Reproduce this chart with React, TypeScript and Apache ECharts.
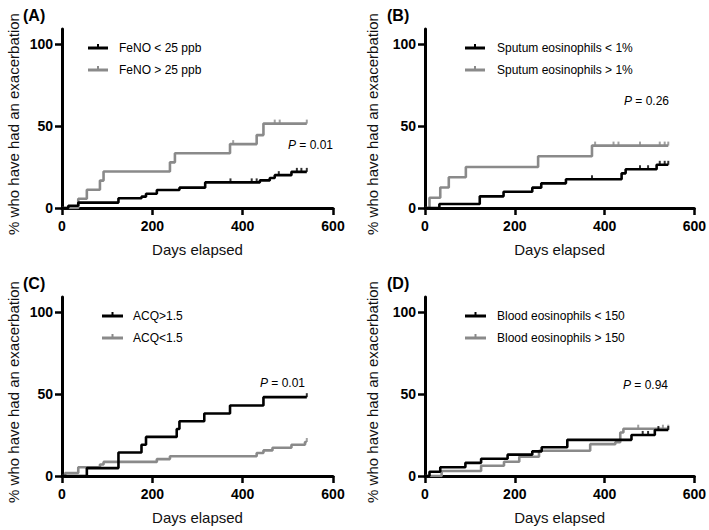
import React, { useEffect, useRef } from "react";
import * as echarts from "echarts";

const FONT = '"Liberation Sans", Arial, Helvetica, sans-serif';
const BLACK = "#000000";
const GRAY = "#8a8a8a";

// x ticks
const xTicks = [0, 200, 400, 600];
const yTicks = [0, 50, 100];

// Panel A
const aLowName = "FeNO < 25 ppb";
const aLowDays = [0, 14, 36, 125, 176, 186, 210, 260, 317, 438, 460, 471, 508, 542];
const aLowPct = [0, 1.4, 3.3, 5.9, 6.9, 8.7, 11, 12.4, 15.6, 16.8, 18.3, 20, 22, 22];
const aLowCens = [373, 420, 431, 480, 520, 530, 542];
const aHighName = "FeNO > 25 ppb";
const aHighDays = [0, 36, 55, 84, 92, 239, 250, 372, 431, 446, 542];
const aHighPct = [0, 5.6, 11.1, 16.7, 22.2, 27.8, 33.3, 38.9, 44.4, 51.4, 51.4];
const aHighCens = [379, 471, 482, 542];
const aP = "0.01";

// Panel B
const bLowName = "Sputum eosinophils < 1%";
const bLowDays = [0, 32, 122, 175, 239, 259, 314, 438, 447, 516, 542];
const bLowPct = [0, 2.4, 7.1, 9.9, 12.4, 15, 17.5, 21.1, 23.6, 26.3, 26.3];
const bLowCens = [372, 479, 497, 523, 534, 542];
const bHighName = "Sputum eosinophils > 1%";
const bHighDays = [0, 10, 34, 53, 91, 252, 372, 542];
const bHighPct = [0, 6.25, 12.5, 18.75, 25, 31.5, 38, 38];
const bHighCens = [379, 420, 431, 479, 523, 534, 542];
const bP = "0.26";

// Panel C
const cHighName = "ACQ>1.5";
const cHighDays = [0, 55, 125, 176, 186, 254, 260, 315, 372, 446, 542];
const cHighPct = [0, 4.8, 14.3, 19, 23.8, 28.6, 33.3, 38.1, 42.9, 48, 48];
const cHighCens = [542];
const cLowName = "ACQ<1.5";
const cLowDays = [0, 7, 36, 84, 92, 210, 239, 431, 446, 466, 508, 538, 542];
const cLowPct = [0, 1.8, 5.3, 7, 8.6, 10.3, 12, 14, 15.6, 17.2, 19, 20.7, 20.7];
const cLowCens = [542];
const cP = "0.01";

// Panel D
const dLowName = "Blood eosinophils < 150";
const dLowDays = [0, 10, 34, 90, 125, 184, 239, 260, 317, 460, 512, 542];
const dLowPct = [0, 2.6, 5.3, 8, 10.5, 13, 15, 17.5, 22, 25, 28, 28];
const dLowCens = [485, 497, 520, 542];
const dHighName = "Blood eosinophils > 150";
const dHighDays = [0, 37, 125, 176, 210, 254, 368, 424, 435, 442, 542];
const dHighPct = [0, 3, 6.2, 8.7, 11.7, 15.4, 19.4, 20.6, 26.5, 28.8, 28.8];
const dHighCens = [475, 530, 542];
const dP = "0.94";

function levelAt(days: number[], pct: number[], t: number) {
  let v = 0;
  for (let i = 0; i < days.length; i++) if (days[i] <= t) v = pct[i];
  return v;
}

const grids = [
  { left: 62, top: 29, width: 271, height: 179 },
  { left: 425, top: 29, width: 271, height: 179 },
  { left: 62, top: 297, width: 271, height: 179 },
  { left: 425, top: 297, width: 271, height: 179 },
];

function buildOption() {
  const series: any[] = [];
  const addKM = (name: string, days: number[], pct: number[], cens: number[], color: string, idx: number, z: number) => {
    series.push({
      type: "line",
      name,
      data: days.map((d, i) => [d, pct[i]]),
      step: "end",
      symbol: "none",
      showSymbol: false,
      lineStyle: { color, width: 2.6 },
      xAxisIndex: idx,
      yAxisIndex: idx,
      z,
      silent: true,
    });
    series.push({
      type: "scatter",
      data: cens.map((d) => [d, levelAt(days, pct, d)]),
      symbol: "rect",
      symbolSize: [2, 4],
      symbolOffset: [0, -2],
      itemStyle: { color },
      xAxisIndex: idx,
      yAxisIndex: idx,
      z,
      silent: true,
    });
  };
  addKM(aHighName, aHighDays, aHighPct, aHighCens, GRAY, 0, 2);
  addKM(aLowName, aLowDays, aLowPct, aLowCens, BLACK, 0, 3);
  addKM(bHighName, bHighDays, bHighPct, bHighCens, GRAY, 1, 2);
  addKM(bLowName, bLowDays, bLowPct, bLowCens, BLACK, 1, 3);
  addKM(cLowName, cLowDays, cLowPct, cLowCens, GRAY, 2, 2);
  addKM(cHighName, cHighDays, cHighPct, cHighCens, BLACK, 2, 3);
  addKM(dHighName, dHighDays, dHighPct, dHighCens, GRAY, 3, 2);
  addKM(dLowName, dLowDays, dLowPct, dLowCens, BLACK, 3, 3);

  const labelStyle = { color: "#000", fontWeight: "bold" as const, fontSize: 14, fontFamily: FONT };
  const xAxis = grids.map((_, i) => ({
    gridIndex: i,
    type: "value",
    min: xTicks[0],
    max: xTicks[xTicks.length - 1],
    interval: xTicks[1] - xTicks[0],
    axisLine: { show: true, onZero: false, lineStyle: { color: "#000", width: 3 } },
    axisTick: { show: true, length: 7, lineStyle: { color: "#000", width: 2.5 } },
    axisLabel: { ...labelStyle, margin: 11 },
    splitLine: { show: false },
    name: "Days elapsed",
    nameLocation: "middle",
    nameGap: 34,
    nameTextStyle: { fontSize: 15, color: "#111", fontFamily: FONT },
  }));
  const yAxis = grids.map((_, i) => ({
    gridIndex: i,
    type: "value",
    min: 0,
    max: 109,
    axisLine: { show: true, lineStyle: { color: "#000", width: 3 } },
    axisTick: { show: true, length: 7, customValues: yTicks, lineStyle: { color: "#000", width: 2.5 } },
    axisLabel: { ...labelStyle, margin: 9, customValues: yTicks },
    splitLine: { show: false },
  }));

  const graphic: any[] = [];
  const panelLabels = [
    { t: "(A)", x: 23, y: 15 },
    { t: "(B)", x: 387, y: 15 },
    { t: "(C)", x: 23, y: 283 },
    { t: "(D)", x: 387, y: 283 },
  ];
  panelLabels.forEach((p) =>
    graphic.push({
      type: "text",
      x: p.x,
      y: p.y,
      style: { text: p.t, fontSize: 16, fontWeight: "bold", fontFamily: FONT, fill: "#000", align: "left", verticalAlign: "middle" },
    })
  );
  const yTitles = [
    { x: 13, y: 124 },
    { x: 372, y: 124 },
    { x: 13, y: 392 },
    { x: 372, y: 392 },
  ];
  yTitles.forEach((p) =>
    graphic.push({
      type: "text",
      x: p.x,
      y: p.y,
      rotation: Math.PI / 2,
      style: {
        text: "% who have had an exacerbation",
        fontSize: 15,
        fontFamily: FONT,
        fill: "#111",
        align: "center",
        verticalAlign: "middle",
      },
    })
  );
  const legends = [
    { x0: 88, x1: 108, tx: 119, y: 48, name: aLowName, color: BLACK },
    { x0: 88, x1: 108, tx: 119, y: 70, name: aHighName, color: GRAY },
    { x0: 465, x1: 485, tx: 497, y: 48, name: bLowName, color: BLACK },
    { x0: 465, x1: 485, tx: 497, y: 70, name: bHighName, color: GRAY },
    { x0: 102, x1: 123, tx: 133, y: 316, name: cHighName, color: BLACK },
    { x0: 102, x1: 123, tx: 133, y: 338, name: cLowName, color: GRAY },
    { x0: 465, x1: 486, tx: 497, y: 316, name: dLowName, color: BLACK },
    { x0: 465, x1: 486, tx: 497, y: 338, name: dHighName, color: GRAY },
  ];
  legends.forEach((l) => {
    graphic.push({
      type: "line",
      shape: { x1: l.x0, y1: l.y, x2: l.x1, y2: l.y },
      style: { stroke: l.color, lineWidth: 3 },
    });
    graphic.push({
      type: "rect",
      shape: { x: (l.x0 + l.x1) / 2 - 1, y: l.y - 4, width: 2, height: 4 },
      style: { fill: l.color },
    });
    graphic.push({
      type: "text",
      x: l.tx,
      y: l.y,
      style: { text: l.name, fontSize: 12, fontFamily: FONT, fill: "#000", align: "left", verticalAlign: "middle" },
    });
  });
  const pTexts = [
    { x: 288, y: 145, v: aP },
    { x: 624, y: 101, v: bP },
    { x: 260, y: 383, v: cP },
    { x: 623, y: 385, v: dP },
  ];
  pTexts.forEach((p) =>
    graphic.push({
      type: "text",
      x: p.x,
      y: p.y,
      style: {
        text: "{i|P} = " + p.v,
        fontSize: 12,
        fontFamily: FONT,
        fill: "#000",
        align: "left",
        verticalAlign: "middle",
        rich: { i: { fontStyle: "italic", fontSize: 12, fontFamily: FONT, fill: "#000" } },
      },
    })
  );

  return {
    animation: false,
    backgroundColor: "#ffffff",
    grid: grids,
    xAxis,
    yAxis,
    series,
    graphic,
  };
}

export default function App() {
  const ref = useRef<HTMLDivElement>(null);
  useEffect(() => {
    if (!ref.current) return;
    const chart = echarts.init(ref.current, undefined, { renderer: "svg" });
    chart.setOption(buildOption() as any);
    return () => chart.dispose();
  }, []);
  return (
    <div
      ref={ref}
      style={{ position: "fixed", left: 0, top: 0, width: 709, height: 530, background: "#fff" }}
    />
  );
}
